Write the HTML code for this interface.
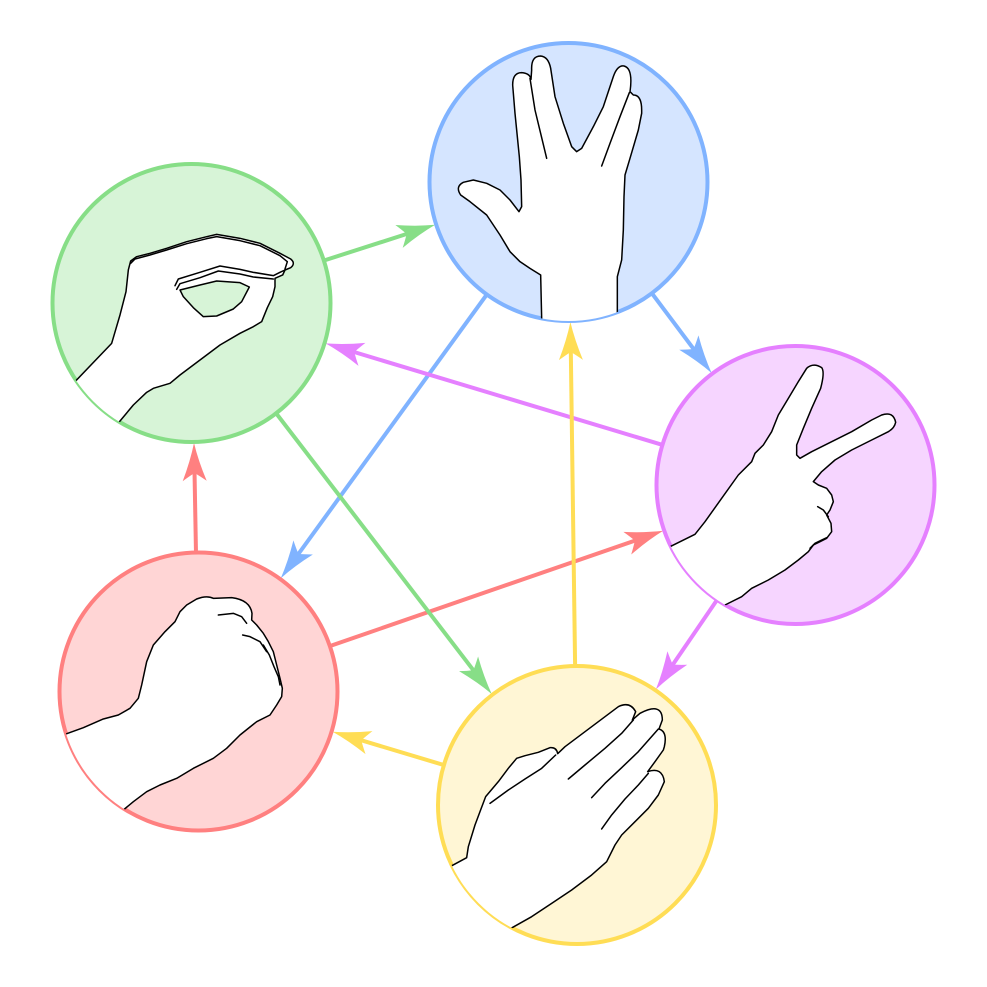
<!DOCTYPE html>
<html><head><meta charset="utf-8"><style>html,body{margin:0;padding:0;background:#fff;}svg{display:block;}</style></head>
<body>
<svg width="987" height="987" viewBox="0 0 987 987" xmlns="http://www.w3.org/2000/svg">
<defs>
<path id="ah" d="M0,0 Q-18,-4 -38,-12 Q-33,-5 -30,0 Q-33,5 -38,12 Q-18,4 0,0 Z"/>
<clipPath id="cB"><circle cx="568.5" cy="182" r="139"/></clipPath>
<clipPath id="cG"><circle cx="191.5" cy="303" r="139"/></clipPath>
<clipPath id="cP"><circle cx="795.5" cy="485" r="139"/></clipPath>
<clipPath id="cR"><circle cx="198.5" cy="691.5" r="139"/></clipPath>
<clipPath id="cY"><circle cx="577" cy="805" r="139"/></clipPath>
</defs>
<rect width="987" height="987" fill="#fff"/>

<!-- connectors -->
<g stroke-width="4" fill="none">
<line x1="191.5" y1="303" x2="408.5" y2="233.4" stroke="#87de87"/>
<line x1="568.5" y1="182" x2="694.8" y2="350.6" stroke="#80b3ff"/>
<line x1="568.5" y1="182" x2="297.3" y2="555.5" stroke="#80b3ff"/>
<line x1="795.5" y1="485" x2="352.4" y2="351.5" stroke="#e580ff"/>
<line x1="795.5" y1="485" x2="671.7" y2="666.3" stroke="#e580ff"/>
<line x1="198.5" y1="691.5" x2="194.5" y2="471" stroke="#ff8080"/>
<line x1="198.5" y1="691.5" x2="636.7" y2="540" stroke="#ff8080"/>
<line x1="577" y1="805" x2="570.8" y2="350" stroke="#ffdd55"/>
<line x1="577" y1="805" x2="359.4" y2="739.7" stroke="#ffdd55"/>
<line x1="191.5" y1="303" x2="474.6" y2="671.8" stroke="#87de87"/>
</g>
<use href="#ah" fill="#87de87" transform="translate(435.2,224.8) rotate(-17.8)"/>
<use href="#ah" fill="#80b3ff" transform="translate(711.6,373) rotate(53.2)"/>
<use href="#ah" fill="#80b3ff" transform="translate(280.8,578.2) rotate(126)"/>
<use href="#ah" fill="#e580ff" transform="translate(325.6,343.4) rotate(-163.2)"/>
<use href="#ah" fill="#e580ff" transform="translate(655.9,689.4) rotate(124.3)"/>
<use href="#ah" fill="#ff8080" transform="translate(194,443) rotate(-91.03)"/>
<use href="#ah" fill="#ff8080" transform="translate(663.2,530.8) rotate(-19.08)"/>
<use href="#ah" fill="#ffdd55" transform="translate(570.4,322) rotate(-90.78)"/>
<use href="#ah" fill="#ffdd55" transform="translate(332.6,731.7) rotate(-163.3)"/>
<use href="#ah" fill="#87de87" transform="translate(491.7,694) rotate(52.48)"/>

<!-- circles -->
<circle cx="568.5" cy="182" r="139" fill="#d5e5ff" stroke="#80b3ff" stroke-width="4"/>
<circle cx="191.5" cy="303" r="139" fill="#d7f4d7" stroke="#87de87" stroke-width="4"/>
<circle cx="795.5" cy="485" r="139" fill="#f6d5ff" stroke="#e580ff" stroke-width="4"/>
<circle cx="198.5" cy="691.5" r="139" fill="#ffd5d5" stroke="#ff8080" stroke-width="4"/>
<circle cx="577" cy="805" r="139" fill="#fff6d5" stroke="#ffdd55" stroke-width="4"/>

<!-- Spock hand -->
<g clip-path="url(#cB)">
<g transform="translate(420,30) scale(0.33333)" stroke="#000" stroke-width="4.5" stroke-linejoin="round" stroke-linecap="round">
<path fill="#fff" d="M365,920 L365,865 L362,735 L330,715 L300,695 L270,665 L240,615 L200,555 L150,515 L122,495 Q105,470 130,457 L160,450 L200,460 L240,480 L270,510 L297,545 L305,530 L303,450 L298,380 L285,250 L278,165 Q278,128 305,128 Q330,130 333,148 L335,120 Q333,78 362,78 Q385,80 392,115 L405,200 L430,280 L455,350 L470,365 L485,355 L520,290 L550,230 L580,140 Q592,105 612,108 Q640,115 630,185 L640,195 Q665,195 665,240 L665,250 L655,300 L630,385 L615,435 L612,500 L610,600 L605,690 L592,740 L592,850 L592,920 Z"/>
<path fill="none" d="M330,145 L345,240 L380,385"/>
<path fill="none" d="M628,188 L600,260 L570,340 L545,408"/>
</g>
</g>

<!-- Lizard hand -->
<g clip-path="url(#cG)">
<g transform="translate(40,155) scale(0.33333)" stroke="#000" stroke-width="4.5" stroke-linejoin="round" stroke-linecap="round">
<path fill="#fff" d="M60,720 L105,680 L215,565 L240,480 L258,410 L265,345 L272,318 L290,305 L330,295 L380,280 L440,260 L500,245 L530,238 L600,250 L660,265 L720,295 L752,312 Q768,325 752,338 L735,345 L728,360 L705,370 L705,395 L698,425 L682,458 L665,500 L640,515 L600,535 L540,570 L480,615 L420,660 L390,685 L340,700 L320,712 L280,750 L230,810 L200,850 Z"/>
<path fill="#d7f4d7" d="M420,405 L480,390 L530,378 L600,383 L628,396 L605,440 L580,462 L530,483 L490,485 L460,458 L430,425 Z"/>
<path fill="none" d="M405,392 L415,372 L480,352 L540,333 L600,343 L640,352 L700,362 L720,352 L735,345"/>
<path fill="none" d="M410,403 L420,386 L480,368 L535,348 L600,357 L640,366 L700,372"/>
<path fill="none" d="M272,325 L285,312 L330,300 L380,285 L440,266 L500,251 L530,245 L600,257 L660,272 L720,302 L742,320 L735,342"/>
</g>
</g>

<!-- Scissors hand -->
<g clip-path="url(#cP)">
<g transform="translate(645,335) scale(0.33333)" stroke="#000" stroke-width="4.5" stroke-linejoin="round" stroke-linecap="round">
<path fill="#fff" d="M40,660 L75,635 L150,598 L180,560 L230,490 L280,420 L320,380 L330,355 L355,330 L380,290 L400,240 L430,190 L460,140 L485,100 Q505,82 530,98 Q540,110 527,160 L500,220 L475,280 L455,330 L455,360 L465,370 L500,350 L560,320 L620,290 L680,255 L710,240 Q745,228 752,262 Q748,280 730,290 L680,315 L620,345 L570,375 L530,410 L505,440 L520,450 L545,460 L560,480 L565,500 L555,525 L545,540 L558,565 L560,590 L545,610 L525,620 L505,630 L490,650 L460,675 L420,705 L370,735 L320,760 L290,785 L240,810 L210,840 L0,900 Z"/>
<path fill="none" d="M518,515 L535,525 L550,545"/>
<path fill="none" d="M495,640 L510,625 L530,615 L545,608"/>
</g>
</g>

<!-- Rock hand -->
<g clip-path="url(#cR)">
<g transform="translate(50,545) scale(0.33333)" stroke="#000" stroke-width="4.5" stroke-linejoin="round" stroke-linecap="round">
<path fill="#fff" d="M20,580 L45,568 L100,548 L160,522 L205,510 L240,490 L265,460 L275,420 L290,350 L310,300 L345,260 L375,230 L390,200 L410,180 L440,162 Q470,150 490,160 L545,158 Q600,165 606,205 L605,225 L620,240 L640,265 L655,290 L670,320 L680,360 L690,400 L697,430 L695,455 L680,480 L660,510 L620,530 L570,570 L530,610 L490,640 L430,670 L380,700 L330,720 L290,740 L250,770 L220,795 L200,830 L0,700 Z"/>
<path fill="none" d="M505,210 L550,205 L575,215 L590,235"/>
<path fill="none" d="M578,270 L600,275 L630,290 L650,320"/>
<path fill="none" d="M640,300 L658,330 L672,365 L685,395 L690,420"/>
</g>
</g>

<!-- Paper hand -->
<g clip-path="url(#cY)">
<g transform="translate(425,655) scale(0.33333)" stroke="#000" stroke-width="4.5" stroke-linejoin="round" stroke-linecap="round">
<path fill="#fff" d="M40,650 L75,635 L125,608 L130,575 L150,510 L165,470 L182,425 L220,380 L250,340 L275,310 L300,302 L340,292 L375,278 Q395,276 398,296 L420,275 L460,245 L500,215 L540,185 L580,155 Q615,138 632,170 L622,195 L645,175 Q712,140 712,195 L702,222 Q728,230 718,275 L715,285 L690,320 L668,350 Q712,335 718,380 L700,420 L670,460 L630,500 L590,540 L570,570 L545,620 L500,660 L440,705 L380,745 L320,785 L258,820 L230,860 L0,800 Z"/>
<path fill="none" d="M195,445 L250,405 L300,372 L350,340 L392,300"/>
<path fill="none" d="M430,372 L480,330 L540,280 L590,235 L625,195"/>
<path fill="none" d="M500,428 L540,385 L590,338 L640,290 L700,222"/>
<path fill="none" d="M530,522 L560,480 L600,432 L640,390 L670,355"/>
</g>
</g>
</svg>
</body></html>
